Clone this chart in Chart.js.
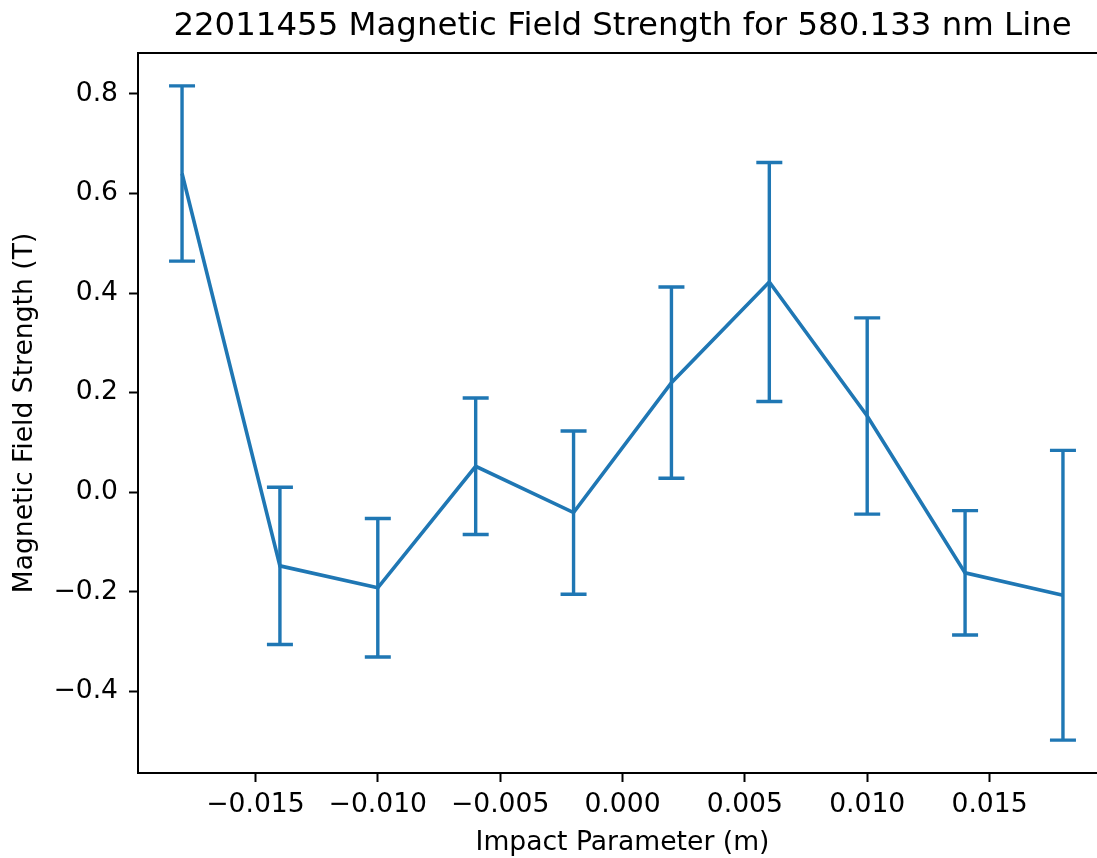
<!DOCTYPE html>
<html>
<head>
<meta charset="utf-8">
<script src="https://cdn.jsdelivr.net/npm/chart.js@4"></script>
<style>
  html, body { margin: 0; padding: 0; background: #fff; overflow: hidden; }
  canvas { display: block; }
</style>
</head>
<body>
<canvas id="chart" width="1120" height="858"></canvas>
<script>
// Impact parameter positions (m)
const impactParameter = [-0.018, -0.014, -0.010, -0.006, -0.002, 0.002, 0.006, 0.010, 0.014, 0.018];
// Measured field strength (T) and its uncertainty (T)
const fieldStrength = [0.640, -0.148, -0.192, 0.052, -0.041, 0.220, 0.422, 0.153, -0.162, -0.207];
const fieldError = [0.176, 0.158, 0.139, 0.137, 0.164, 0.192, 0.240, 0.197, 0.125, 0.291];
// Axis tick values
const xTickValues = [-0.015, -0.010, -0.005, 0.000, 0.005, 0.010, 0.015];
const yTickValues = [-0.4, -0.2, 0.0, 0.2, 0.4, 0.6, 0.8];

const titleText = '22011455 Magnetic Field Strength for 580.133 nm Line';
const xLabelText = 'Impact Parameter (m)';
const yLabelText = 'Magnetic Field Strength (T)';

const FONT = '"DejaVu Sans", "Liberation Sans", sans-serif';
const LINE_BLUE = '#1f77b4';

const fmt = (v, d) => v.toFixed(d).replace('-', '\u2212');

// Error bars with caps, drawn through the chart's own scales
const errorBars = {
  id: 'errorBars',
  afterDatasetsDraw(chart) {
    const { ctx, scales: { x, y } } = chart;
    const cap = 13;
    ctx.save();
    ctx.strokeStyle = LINE_BLUE;
    ctx.lineWidth = 3.4;
    ctx.lineCap = 'butt';
    impactParameter.forEach((xv, i) => {
      const px = x.getPixelForValue(xv);
      const top = y.getPixelForValue(fieldStrength[i] + fieldError[i]);
      const bot = y.getPixelForValue(fieldStrength[i] - fieldError[i]);
      ctx.beginPath();
      ctx.moveTo(px, top); ctx.lineTo(px, bot);
      ctx.moveTo(px - cap, top); ctx.lineTo(px + cap, top);
      ctx.moveTo(px - cap, bot); ctx.lineTo(px + cap, bot);
      ctx.stroke();
    });
    ctx.restore();
  }
};

// Top and right spines, title and axis labels
const frameAndText = {
  id: 'frameAndText',
  afterDraw(chart) {
    const { ctx, chartArea: a } = chart;
    ctx.save();
    ctx.strokeStyle = '#000';
    ctx.lineWidth = 2;
    ctx.beginPath();
    ctx.moveTo(a.left - 1, a.top);
    ctx.lineTo(a.right, a.top);
    ctx.lineTo(a.right, a.bottom);
    ctx.stroke();

    ctx.fillStyle = '#000';
    ctx.textAlign = 'center';
    ctx.textBaseline = 'middle';
    const cx = (a.left + a.right) / 2;
    ctx.font = '32.4px ' + FONT;
    ctx.fillText(titleText, cx, 27);

    ctx.font = '26.6px ' + FONT;
    ctx.fillText(xLabelText, cx, 843);

    ctx.translate(25, (a.top + a.bottom) / 2);
    ctx.rotate(-Math.PI / 2);
    ctx.fillText(yLabelText, 0, 0);
    ctx.restore();
  }
};

new Chart(document.getElementById('chart'), {
  type: 'scatter',
  data: {
    datasets: [{
      data: impactParameter.map((xv, i) => ({ x: xv, y: fieldStrength[i] })),
      showLine: true,
      borderColor: LINE_BLUE,
      borderWidth: 3.6,
      pointRadius: 0,
      pointHoverRadius: 0,
      tension: 0,
      fill: false
    }]
  },
  options: {
    responsive: false,
    animation: false,
    devicePixelRatio: 1,
    layout: { padding: { top: 53, left: 0, right: 13, bottom: 0 } },
    plugins: {
      legend: { display: false },
      title: { display: false },
      tooltip: { enabled: false }
    },
    scales: {
      x: {
        type: 'linear',
        min: -0.0198,
        max: 0.0198,
        afterFit(scale) { scale.height = 85; },
        afterBuildTicks(scale) { scale.ticks = xTickValues.map(v => ({ value: v })); },
        grid: { display: true, drawOnChartArea: false, drawTicks: true, tickLength: 9, tickWidth: 2, tickColor: '#000' },
        border: { display: true, color: '#000', width: 2 },
        ticks: {
          color: '#000',
          font: { family: FONT, size: 26.6 },
          padding: 7,
          maxRotation: 0,
          autoSkip: false,
          callback: v => fmt(v, 3)
        }
      },
      y: {
        type: 'linear',
        min: -0.564,
        max: 0.882,
        afterFit(scale) { scale.width = 138; },
        afterBuildTicks(scale) { scale.ticks = yTickValues.map(v => ({ value: v })); },
        grid: { display: true, drawOnChartArea: false, drawTicks: true, tickLength: 9, tickWidth: 2, tickColor: '#000' },
        border: { display: true, color: '#000', width: 2 },
        ticks: {
          color: '#000',
          font: { family: FONT, size: 26.6 },
          padding: 11,
          autoSkip: false,
          callback: v => fmt(v, 1)
        }
      }
    }
  },
  plugins: [errorBars, frameAndText]
});
</script>
</body>
</html>
